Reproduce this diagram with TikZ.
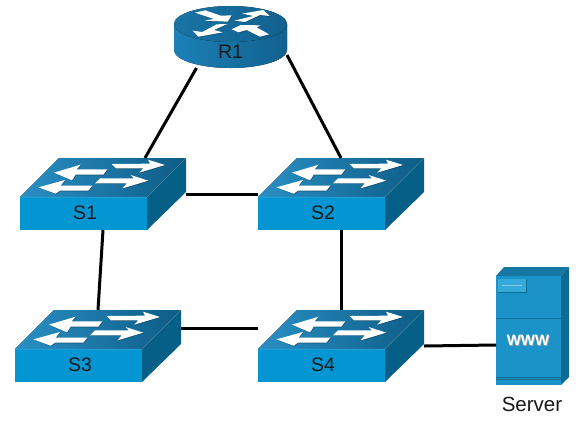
\documentclass[tikz,border=0pt]{standalone}
\usepackage{fontspec}
\usetikzlibrary{shadows}
\setmainfont{Liberation Sans}
\definecolor{topL}{HTML}{2A8FC4}
\definecolor{topR}{HTML}{0D5C86}
\definecolor{frontC}{HTML}{0396D3}
\definecolor{sideC}{HTML}{055F86}
\definecolor{rtrL}{HTML}{1C80B6}
\definecolor{rtrR}{HTML}{11618F}
\definecolor{srvC}{HTML}{1B93C9}
\definecolor{srvS}{HTML}{0E6C94}
\tikzset{
  x=1pt,y=-1pt,
  box/.style={inner sep=0pt,outer sep=0pt,draw=none},
  lbl/.style={font=\fontsize{19.5}{19.5}\selectfont,text=black!90,inner sep=0pt},
  link/.style={line width=3pt,black,line cap=butt},
  whitearrow/.style={fill=white,draw=none,general shadow={fill=black,opacity=.3,shadow xshift=.6pt,shadow yshift=-.6pt}},
}
\newcommand{\swdev}[4]{% X, Y(front top), name, text
  \begin{scope}[shift={(#1,#2)}]
    \fill[left color=topL,right color=topR] (0,0) -- (39,-39) -- (166,-39) -- (127,0) -- cycle;
    \fill[frontC] (0,0) rectangle (127,33);
    \fill[sideC] (127,0) -- (166,-39) -- (166,-5) -- (127,33) -- cycle;
    \draw[white,opacity=.25,line width=.5pt] (0,0) -- (127,0) -- (166,-39);
    \begin{scope}[shift={(-10,-47)},scale=1/3]
      \fill[whitearrow] (305,42) -- (420,41) -- (414,29) -- (465,45) -- (388,68) -- (400,55) -- (318,55) -- cycle;
      \fill[whitearrow] (132,68) -- (212,44) -- (200,58) -- (292,58) -- (280,74) -- (197,74) -- (186,91) -- cycle;
      \fill[whitearrow] (270,85) -- (372,85) -- (362,75) -- (415,92) -- (338,115) -- (350,100) -- (255,100) -- cycle;
      \fill[whitearrow] (85,112) -- (165,90) -- (152,107) -- (247,107) -- (235,122) -- (150,122) -- (137,131) -- cycle;
    \end{scope}
    \node[box,minimum width=166pt,minimum height=72pt] (#3) at (83,-3) {};
    \node[lbl] (#3label) at (65,15.5) {#4};
  \end{scope}
}
\begin{document}
\begin{tikzpicture}
\useasboundingbox (0,0) rectangle (578,424);
% router
\fill[left color=rtrL,right color=rtrR] (174,24) -- (174,50) arc[start angle=180,end angle=360,x radius=56.5,y radius=-18] -- (287,24) -- cycle;
\fill[left color=rtrL!90!black,right color=rtrR] (230.5,24) ellipse[x radius=56.5,y radius=18];
\begin{scope}[shift={(150,0)},scale=1/3]
  \fill[whitearrow] (135,38) -- (166,31) -- (212,47) -- (245,46) -- (233,65) -- (163,62) -- (192,57) -- cycle;
  \fill[whitearrow] (253,62) -- (310,48) -- (276,41) -- (340,30) -- (359,48) -- (330,45) -- (285,66) -- cycle;
  \fill[whitearrow] (232,72) -- (192,90) -- (218,97) -- (146,110) -- (128,92) -- (157,96) -- (200,73) -- cycle;
  \fill[whitearrow] (245,88) -- (272,75) -- (332,76) -- (320,82) -- (357,103) -- (330,110) -- (290,90) -- (265,97) -- cycle;
\end{scope}
\node[box,minimum width=113pt,minimum height=62pt] (R1) at (230.5,37) {};
\node[lbl] (R1label) at (230.5,52) {R1};
% switches
\swdev{20}{197}{S1}{S1}
\swdev{258}{197}{S2}{S2}
\swdev{15}{349}{S3}{S3}
\swdev{258}{349}{S4}{S4}
% server
\fill[srvS!70!topL] (496,276) -- (504,267) -- (569,267) -- (561,276) -- cycle;
\fill[srvS] (561,276) -- (569,267) -- (569,377) -- (561,385) -- cycle;
\fill[srvC] (496,276) rectangle (561,385);
\draw[srvS,line width=.7pt] (496,318.5) -- (561,318.5);
\draw[srvS,line width=.7pt] (496,377) -- (561,377);
\draw[srvS,line width=.7pt] (496,379.5) -- (561,379.5);
\fill[srvS] (498,280) rectangle (527,293);
\fill[frontC!80!white] (498,279) rectangle (526,292);
\draw[white,opacity=.4,line width=.7pt] (502,285) -- (522,285);
\node[box,minimum width=73pt,minimum height=118pt] (Srv) at (532.5,326) {};
\node[font=\fontsize{15}{15}\selectfont\bfseries,text=black!35,inner sep=0pt] (wwwsh) at (528.8,341.1) {WWW};
\node[font=\fontsize{15}{15}\selectfont\bfseries,text=white,inner sep=0pt] (www) at (528,340) {WWW};
\node[font=\fontsize{20.5}{20.5}\selectfont,text=black!90,inner sep=0pt] (Srvlabel) at (532,404) {Server};
% links
\draw[link] ([xshift=-34pt]R1.south) -- ([xshift=42pt]S1.north);
\draw[link] ([yshift=-18pt]R1.east) -- (S2.north);
\draw[link] ([yshift=0pt]S1.east) -- (S2.west);
\draw[link] (S1.south) -- (S3.north);
\draw[link] (S2.south) -- (S4.north);
\draw[link] ([yshift=18pt]S3.east) -- ([yshift=18pt]S4.west);
\draw[link] (S4.east) -- ([yshift=-19pt]Srv.west);
\end{tikzpicture}
\end{document}
